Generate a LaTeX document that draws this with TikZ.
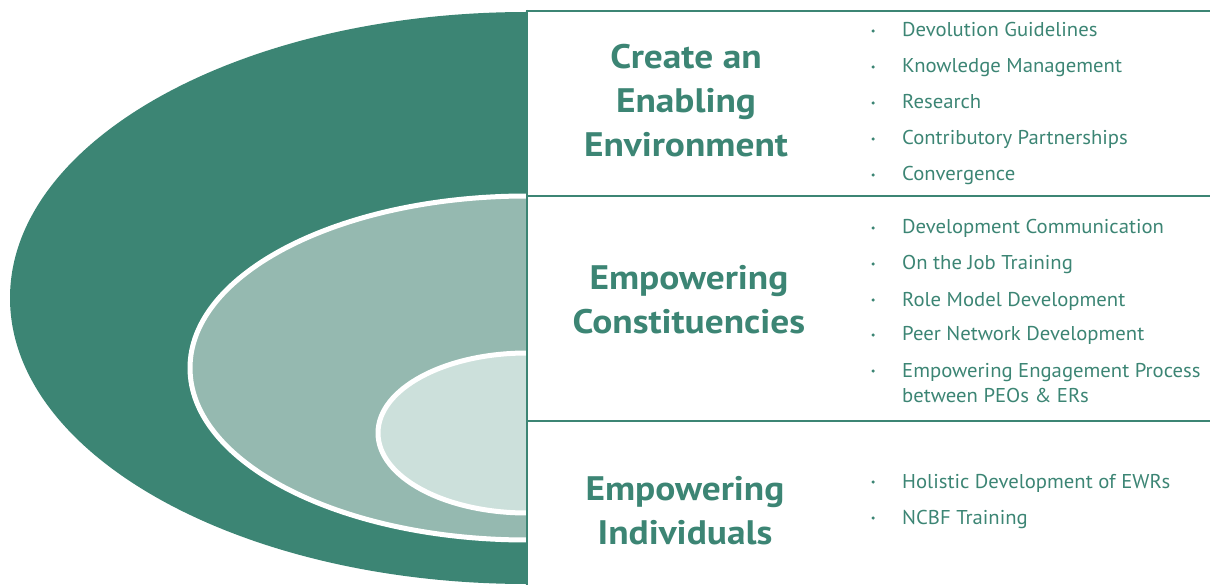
\documentclass[tikz,border=0pt]{standalone}
\usepackage{fontspec}
\setmainfont{PT Sans}
\newfontfamily\headfont[FakeStretch=1.1]{PT Sans}
\newfontfamily\pointfont[FakeStretch=1.035]{PT Sans}
\definecolor{leafdark}{HTML}{3C8574}
\definecolor{leafmid}{HTML}{95B9B0}
\definecolor{leaflight}{HTML}{CCE0DB}
\tikzset{
	heading/.style={text=leafdark, font=\headfont\fontsize{34}{44}\selectfont\bfseries, align=center, inner sep=0pt},
	point/.style={text=leafdark, font=\pointfont\fontsize{20}{25}\selectfont, anchor=base west, inner sep=0pt},
	dot/.style={circle, fill=leafdark, inner sep=0pt, minimum size=3.5pt},
	panelrule/.style={draw=leafdark, line width=2pt},
}

\begin{document}
\begin{tikzpicture}[x=1pt, y=-1pt]
	%%%%% START %%%%%
	\useasboundingbox (0, 0) rectangle (1210, 585);
	
	% nested half rings
	\begin{scope}
		\clip (0, 0) rectangle (527, 585);
		\fill[leafdark] (527, 298) ellipse (517 and 286);
		\draw[fill=leafmid, draw=white, line width=5pt] (527, 368) ellipse (337 and 172);
		\draw[fill=leaflight, draw=white, line width=5pt] (527, 433) ellipse (149 and 80);
	\end{scope}
	
	% panel rules
	\draw[panelrule] (527, 11) -- (1210, 11);
	\draw[panelrule] (527, 196) -- (1210, 196);
	\draw[panelrule] (527, 421) -- (1210, 421);
	\draw[panelrule] (527, 10) -- (527, 585);
	
	% headings
	\node[heading] (enabling) at (686, 101) {Create an\\Enabling\\Environment};
	\node[heading] (constit) at (689, 300) {Empowering\\Constituencies};
	\node[heading] (individ) at (685, 511) {Empowering\\Individuals};
	
	% enabling environment
	\node[point] (devol) at (902, 37) {Devolution Guidelines};
	\node[point] (knowl) at (902, 73) {Knowledge Management};
	\node[point] (resea) at (902, 109) {Research};
	\node[point] (contr) at (902, 145) {Contributory Partnerships};
	\node[point] (conve) at (902, 181) {Convergence};
	
	% constituencies
	\node[point] (devcom) at (902, 234) {Development Communication};
	\node[point] (ojt) at (902, 270) {On the Job Training};
	\node[point] (rolem) at (902, 306) {Role Model Development};
	\node[point] (peern) at (902, 341) {Peer Network Development};
	\node[point] (engag) at (902, 377) {Empowering Engagement Process};
	\node[point] (engag2) at (902, 402) {between PEOs \& ERs};
	
	% individuals
	\node[point] (holis) at (902, 488) {Holistic Development of EWRs};
	\node[point] (ncbf) at (902, 524) {NCBF Training};
	
	% bullets
	\node[dot] at (873, 31) {};
	\node[dot] at (873, 67) {};
	\node[dot] at (873, 103) {};
	\node[dot] at (873, 139) {};
	\node[dot] at (873, 175) {};
	\node[dot] at (873, 228) {};
	\node[dot] at (873, 264) {};
	\node[dot] at (873, 300) {};
	\node[dot] at (873, 335) {};
	\node[dot] at (873, 371) {};
	\node[dot] at (873, 482) {};
	\node[dot] at (873, 518) {};
	%%%%% END %%%%%
\end{tikzpicture}
\end{document}
